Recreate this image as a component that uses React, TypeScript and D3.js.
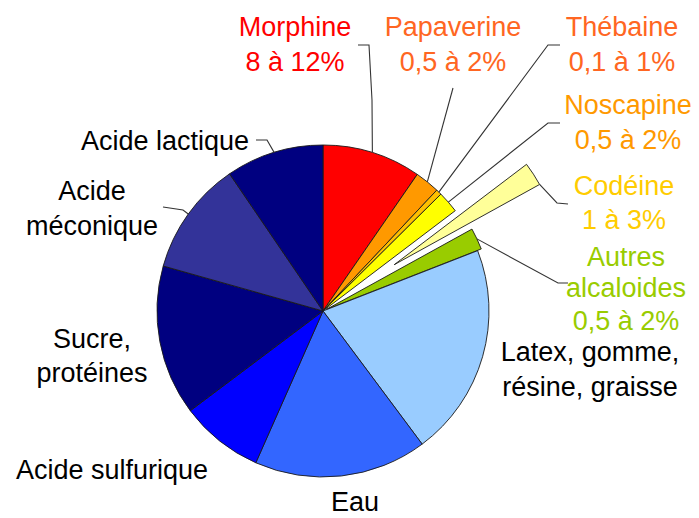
import React from "react";
import * as d3 from "d3";

const categories = [
  "Morphine",
  "Papaverine",
  "Thébaine",
  "Noscapine",
  "Codéine",
  "Autres alcaloides",
  "Latex, gomme, résine, graisse",
  "Eau",
  "Acide sulfurique",
  "Sucre, protéines",
  "Acide méconique",
  "Acide lactique",
];
const values = [9.6, 2.4, 0.55, 2.1, 2.3, 2.1, 20.7, 16.8, 8.1, 14.6, 11.1, 9.5];
const labelLines = [
  ["Morphine", "8 à 12%"],
  ["Papaverine", "0,5 à 2%"],
  ["Thébaine", "0,1 à 1%"],
  ["Noscapine", "0,5 à 2%"],
  ["Codéine", "1 à 3%"],
  ["Autres", "alcaloides", "0,5 à 2%"],
  ["Latex, gomme,", "résine, graisse"],
  ["Eau"],
  ["Acide sulfurique"],
  ["Sucre,", "protéines"],
  ["Acide", "méconique"],
  ["Acide lactique"],
];

const fills = [
  "#ff0000", "#ff9900", "#ffc000", "#ffff00", "#ffff99", "#99cc00",
  "#99ccff", "#3366ff", "#0000ff", "#000080", "#333399", "#000080",
];
const textColors = [
  "#ff0000", "#ff6622", "#ff6622", "#ff9900", "#ffcc00", "#99cc00",
  "#000", "#000", "#000", "#000", "#000", "#000",
];
const explode = [0, 0, 0, 0, 85, 4, 0, 0, 0, 0, 0, 0];

// label layout: x, baselines
const labelPos: { x: number; ys: number[] }[] = [
  { x: 295, ys: [36, 71] },
  { x: 453, ys: [36, 71] },
  { x: 622, ys: [36, 71] },
  { x: 628, ys: [114, 149] },
  { x: 624, ys: [195, 229] },
  { x: 626, ys: [266, 297, 330] },
  { x: 590, ys: [361, 396] },
  { x: 355, ys: [511] },
  { x: 112, ys: [479] },
  { x: 92, ys: [348, 382] },
  { x: 92, ys: [200, 235] },
  { x: 165, ys: [150] },
];

// leader elbow points (after the point on the pie)
const leaderTails: ([number, number][] | null)[] = [
  [[372, 100], [369, 45], [358, 45]],
  [[453, 88]],
  [[548, 45], [560, 45]],
  [[548, 123], [560, 123]],
  [[557, 203], [568, 204]],
  [[558, 283], [568, 283]],
  null,
  null,
  null,
  null,
  [[183, 210], [163, 207]],
  [[267, 140], [256, 140]],
];

const W = 699;
const H = 518;
const cx = 323;
const cy = 311;
const R = 166;

export default function App() {
  const pie = d3
    .pie<number>()
    .sort(null)
    .value((d) => d)
    .startAngle(0)
    .endAngle(2 * Math.PI);
  const arcs = pie(values);
  const arc = d3.arc<d3.PieArcDatum<number>>().innerRadius(0).outerRadius(R);

  const offsetOf = (i: number, a: d3.PieArcDatum<number>) => {
    const mid = (a.startAngle + a.endAngle) / 2;
    return [explode[i] * Math.sin(mid), -explode[i] * Math.cos(mid)];
  };

  const line = d3.line();

  return (
    <svg
      width={W}
      height={H}
      style={{ position: "absolute", left: 0, top: 0, background: "#fff" }}
      fontFamily="'Liberation Sans', Arial, sans-serif"
    >
      <g transform={`translate(${cx},${cy})`}>
        {arcs.map((a, i) => {
          const [dx, dy] = offsetOf(i, a);
          return (
            <path
              key={categories[i]}
              d={arc(a) || ""}
              transform={`translate(${dx},${dy})`}
              fill={fills[i]}
              stroke="#1a1a1a"
              strokeWidth={0.9}
              strokeLinejoin="round"
            />
          );
        })}
      </g>
      {arcs.map((a, i) => {
        const tail = leaderTails[i];
        if (!tail) return null;
        const [dx, dy] = offsetOf(i, a);
        // Codéine leader starts at the outer end corner of the exploded wedge
        const ang = i === 4 ? a.endAngle : (a.startAngle + a.endAngle) / 2;
        const start: [number, number] = [
          cx + dx + R * Math.sin(ang),
          cy + dy - R * Math.cos(ang),
        ];
        return (
          <path
            key={"l" + i}
            d={line([start, ...tail]) || ""}
            fill="none"
            stroke="#333"
            strokeWidth={1.1}
          />
        );
      })}
      {labelLines.map((lines, i) => (
        <text
          key={"t" + i}
          textAnchor="middle"
          fontSize={27}
          fill={textColors[i]}
        >
          {lines.map((s, j) => (
            <tspan key={j} x={labelPos[i].x} y={labelPos[i].ys[j]}>
              {s}
            </tspan>
          ))}
        </text>
      ))}
    </svg>
  );
}
